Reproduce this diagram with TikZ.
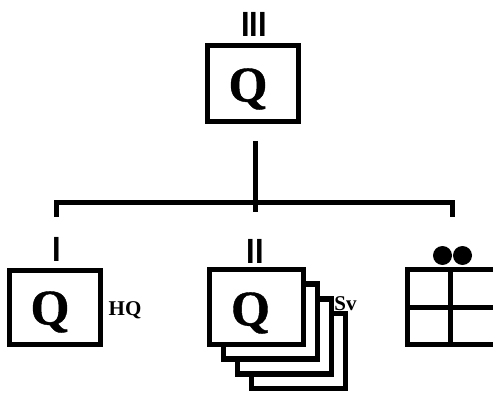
\documentclass[tikz,border=0pt]{standalone}
\usepackage{fontspec}
\setmainfont{Liberation Serif}
\newfontfamily\numfont{Liberation Sans}
\newfontfamily\qfont[FakeBold=0.8]{Liberation Serif Bold}
\tikzset{
  qbox/.style={draw, line width=5.5pt, fill=white, inner sep=0pt},
  qletter/.style={anchor=base, inner sep=0pt, font=\fontsize{50}{50}\selectfont\qfont},
  numeral/.style={anchor=base, inner sep=0pt, font=\fontsize{35}{35}\selectfont\numfont\bfseries},
  tag/.style={anchor=base, inner sep=0pt, font=\fontsize{21}{21}\selectfont\bfseries},
  wire/.style={line width=5pt},
  dot/.style={fill=black, draw=none}
}
\begin{document}
\begin{tikzpicture}[x=1pt,y=-1pt]
\useasboundingbox (0,0) rectangle (493,393);
\fill[white] (0,0) rectangle (493,393);
\clip (0,0) rectangle (493,393);

% top box
\node[qbox, minimum width=91pt, minimum height=76pt] (topbox) at (253,83.5) {};
\node[qletter] (topq) at (248,101.5) {Q};
\node[numeral] (lab3) at (254,37) {\scalebox{0.88}[1]{III}};

% left box
\node[qbox, minimum width=91pt, minimum height=74pt] (leftbox) at (55,307.5) {};
\node[qletter] (leftq) at (50,324.5) {Q};
\node[numeral] (lab1) at (57,261) {\scalebox{0.88}[1]{I}};
\node[tag] (hq) at (125,315) {HQ};

% middle stack (back to front)
\foreach \k in {3,2,1} {
  \node[qbox, minimum width=94pt, minimum height=75pt] (stack\k) at ({256.5+14*\k},{307+14.67*\k}) {};
}
\node[qbox, minimum width=94pt, minimum height=75pt] (midbox) at (256.5,307) {};
\node[qletter] (midq) at (250.5,325.5) {Q};
\node[numeral] (lab2) at (255.5,263) {\scalebox{0.88}[1]{II}};
\node[tag] (sv) at (345.5,310) {Sv};

% grid (right, cut by picture edge)
\coordinate (gridnw) at (407.5,269.5);
\coordinate (gridse) at (530,344.5);
\coordinate (gridmidx) at (450.5,0);
\coordinate (gridmidy) at (0,307.5);
\draw[line width=5.5pt] (gridnw) rectangle (gridse);
\draw[line width=5.5pt] (gridnw -| gridmidx) -- (gridse -| gridmidx);
\draw[line width=5.5pt] (gridnw |- gridmidy) -- (gridse |- gridmidy);
\node[dot, circle, minimum size=19pt, inner sep=0pt] (dotA) at (442.5,255.5) {};
\node[dot, circle, minimum size=19pt, inner sep=0pt] (dotB) at (462.5,255.5) {};

% connectors
\coordinate (stemtop) at (255,141);
\coordinate (dropM) at (255,212);
\coordinate (busL) at (56,203);
\coordinate (busR) at (452,203);
\coordinate (dropL) at (56,217);
\coordinate (dropR) at (452,217);
\draw[wire] (stemtop) -- (dropM);
\draw[wire] (dropL) -- (busL) -- (busR) -- (dropR);
\end{tikzpicture}
\end{document}
